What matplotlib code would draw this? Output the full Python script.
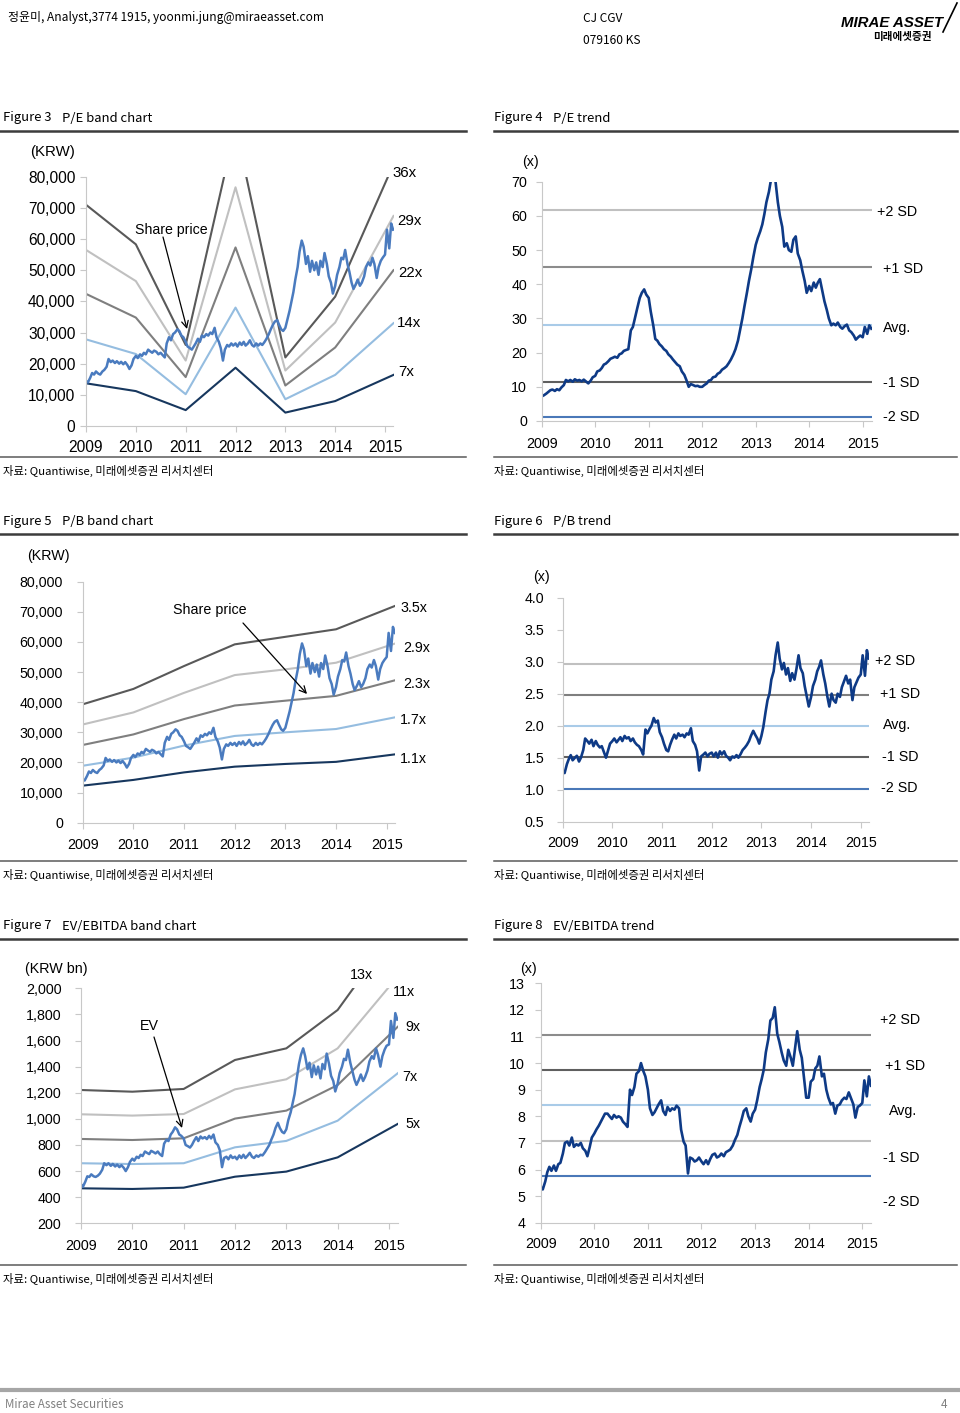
import numpy as np
import pandas as pd
import matplotlib
matplotlib.use('Agg')
import matplotlib.pyplot as plt
from matplotlib.lines import Line2D
from matplotlib.ticker import FuncFormatter

W, H = 960, 1413
KR = ['Noto Sans CJK KR', 'DejaVu Sans']
plt.rcParams['font.family'] = ['Liberation Sans', 'DejaVu Sans']

# semi-monthly observations, Jan 2009 - Mar 2015
dates = pd.date_range('2009-01-01', periods=149, freq='SMS')
t = np.array(dates.year + (dates.dayofyear - 1) / 365.0)
band_x = [2009, 2010, 2011, 2012, 2013, 2014, 2015.17]
years = list(range(2009, 2016))

price = [
    14500, 14000, 15500, 17000, 16500, 17500, 16800, 16500, 17500, 18000, 19000, 21500,
    20500, 21000, 20200, 20800, 20000, 20600, 19800, 20500, 19500, 18300, 19500, 21500,
    22500, 21800, 23000, 22500, 23500, 23000, 24500, 24000, 23500, 24200, 23800, 23000,
    23500, 22800, 22000, 26500, 28500, 27500, 29500, 30000, 31000, 30500, 29000, 28500,
    27000, 25500, 25000, 24500, 25500, 26500, 28000, 27000, 29000, 28500, 29500, 29000,
    30000, 29500, 31500, 28500, 27000, 25000, 21000, 24500, 26000, 25500, 26500, 25800,
    26500, 25500, 26800, 26000, 27000, 25800, 26500, 27500, 26000, 25500, 26500, 25800,
    26500, 26000, 27000, 28000, 29500, 31000, 32500, 33500, 34000, 32500, 31000, 30500,
    31500, 34000, 37000, 40000, 43000, 47000, 51000, 56000, 59500, 57500, 52000, 54500,
    49500, 53000, 50000, 52500, 48500, 53000, 51000, 55500, 52000, 48000, 46000, 42500,
    45000, 48500, 51000, 54000, 53500, 56500, 52000, 49500, 46000, 44000, 45500, 47000,
    45000, 46000, 48000, 51000, 52500, 51500, 54000, 52000, 47500, 51000, 53000, 54000,
    55000, 63000, 57000, 65000, 63000]

ev = [
    500, 480, 520, 560, 555, 575, 560, 555, 565, 580, 610, 660,
    645, 660, 640, 655, 635, 650, 630, 645, 625, 600, 630, 670,
    695, 680, 710, 700, 725, 715, 750, 740, 730, 755, 745, 735,
    750, 730, 715, 810, 840, 830, 880, 900, 935, 920, 880, 870,
    850, 800, 790, 780, 800, 830, 860, 830, 865, 850, 860, 845,
    870, 850, 880, 820, 800, 760, 630, 700, 710, 690, 720, 700,
    710, 690, 720, 700, 725, 700, 720, 740, 710, 700, 720, 710,
    725, 720, 745, 770, 800, 840, 880, 930, 970, 930, 900, 890,
    920, 990, 1050, 1120, 1190, 1300, 1420, 1490, 1540, 1480, 1380, 1430,
    1320, 1410, 1340, 1400, 1310, 1420, 1380, 1500, 1420, 1330, 1290, 1210,
    1270, 1350, 1400, 1460, 1450, 1530, 1430, 1370, 1300, 1260, 1300, 1340,
    1290, 1320, 1370, 1440, 1480, 1460, 1540, 1490, 1400, 1480, 1530, 1560,
    1570, 1750, 1620, 1810, 1760]

pe = [
    7.2, 7.5, 8.0, 8.5, 9.0, 9.2, 8.8, 9.3, 9.0, 9.8, 10.5, 12.0,
    11.6, 12.0, 11.5, 12.2, 11.8, 12.0, 11.6, 12.1, 11.5, 11.0, 11.8, 12.8,
    13.2, 14.5, 14.8, 15.5, 16.5, 16.8, 17.5, 18.2, 18.5, 18.8, 18.5, 19.5,
    19.8, 20.5, 20.8, 21.0, 26.5, 27.5, 30.5, 33.0, 36.0, 37.5, 38.5, 37.0,
    36.0, 32.0, 28.0, 24.0, 23.5, 22.5, 21.8, 21.0, 20.5, 19.5, 18.8, 18.0,
    17.2, 16.5, 16.0, 14.5, 13.5, 12.0, 10.0, 10.8, 10.5, 10.2, 10.3, 10.0,
    10.0, 10.5, 11.0, 11.8, 12.0, 12.8, 13.0, 13.8, 14.2, 15.0, 15.5, 16.0,
    17.0, 18.0, 19.5, 21.0, 23.5, 26.5, 30.0, 33.5, 37.5, 41.0, 44.5, 48.0,
    51.5, 53.5, 55.5, 57.5, 60.5, 64.0, 67.0, 70.5, 71.0, 70.5, 64.0, 60.0,
    56.8, 51.0, 52.0, 50.0, 49.5, 53.0, 54.0, 49.0, 47.0, 44.0, 41.0, 37.5,
    39.5, 38.0, 40.5, 39.0, 40.5, 41.5, 38.0, 35.0, 32.5, 30.0, 28.0, 28.5,
    28.0, 28.8, 27.5, 27.0, 27.8, 28.2, 26.5, 26.0, 25.0, 23.8, 24.5, 25.0,
    24.5, 27.5, 25.5, 28.0, 27.0]

pb = [
    1.30, 1.26, 1.40, 1.48, 1.54, 1.46, 1.50, 1.53, 1.44, 1.50, 1.62, 1.80,
    1.76, 1.72, 1.78, 1.68, 1.76, 1.70, 1.66, 1.68, 1.58, 1.50, 1.62, 1.72,
    1.76, 1.80, 1.74, 1.78, 1.82, 1.76, 1.84, 1.80, 1.82, 1.76, 1.80, 1.74,
    1.70, 1.68, 1.62, 1.55, 1.94, 1.88, 1.95, 2.00, 2.12, 2.05, 2.08, 1.90,
    1.82, 1.72, 1.62, 1.60, 1.70, 1.78, 1.86, 1.80, 1.88, 1.84, 1.86, 1.82,
    1.88, 1.86, 1.96, 1.76, 1.70, 1.60, 1.30, 1.52, 1.55, 1.58, 1.52, 1.56,
    1.58, 1.52, 1.58, 1.50, 1.60, 1.55, 1.60, 1.53, 1.50, 1.46, 1.52, 1.50,
    1.54, 1.50, 1.56, 1.62, 1.66, 1.70, 1.76, 1.84, 1.92, 1.86, 1.80, 1.72,
    1.84, 1.98, 2.22, 2.40, 2.50, 2.72, 2.85, 3.10, 3.30, 3.05, 2.88, 2.98,
    2.80, 2.90, 2.70, 2.82, 2.72, 2.88, 3.10, 2.90, 2.82, 2.62, 2.45, 2.30,
    2.45, 2.62, 2.72, 2.85, 2.92, 3.02, 2.80, 2.66, 2.45, 2.30, 2.50, 2.40,
    2.36, 2.50, 2.45, 2.60, 2.70, 2.78, 2.66, 2.72, 2.40, 2.60, 2.68, 2.75,
    2.80, 3.10, 2.78, 3.18, 3.05]

ev_ebitda = [
    5.35, 5.25, 5.55, 5.90, 6.10, 5.95, 6.15, 5.95, 6.20, 6.25, 6.60, 7.00,
    7.05, 6.90, 7.20, 6.85, 6.95, 6.90, 7.00, 6.80, 6.70, 6.50, 6.85, 7.20,
    7.35, 7.50, 7.65, 7.80, 7.95, 8.10, 8.10, 8.00, 7.90, 8.05, 7.95, 8.00,
    7.95, 7.80, 7.70, 7.60, 9.00, 8.80, 9.10, 9.60, 9.70, 10.00, 9.70, 9.50,
    9.00, 8.30, 8.05, 8.15, 8.30, 8.45, 8.60, 8.20, 8.05, 8.35, 8.20, 8.30,
    8.25, 8.40, 8.30, 7.50, 7.05, 6.90, 5.85, 6.45, 6.40, 6.30, 6.35, 6.45,
    6.30, 6.20, 6.35, 6.20, 6.40, 6.55, 6.60, 6.45, 6.50, 6.60, 6.50, 6.65,
    6.70, 6.75, 6.90, 7.10, 7.30, 7.60, 7.90, 8.20, 8.30, 8.00, 7.80, 8.10,
    8.25, 8.60, 9.10, 9.40, 9.75, 10.40, 10.90, 11.60, 11.70, 12.10, 11.10, 10.80,
    10.40, 10.10, 9.90, 10.50, 10.20, 9.90, 10.60, 11.20, 10.50, 10.20, 9.40, 8.70,
    8.70, 9.30, 9.40, 9.80, 9.90, 10.25, 9.50, 9.60, 9.00, 8.70, 8.45, 8.50,
    8.10, 8.40, 8.45, 8.60, 8.70, 8.65, 8.90, 8.70, 8.45, 7.95, 8.35, 8.40,
    8.50, 9.35, 8.75, 9.50, 9.15]

# band lines (value of each multiple at year ends)
pe_mult = ['7x', '14x', '22x', '29x', '36x']
pe_bands = [
    [13700, 11200, 5100, 18700, 4300, 8000, 16400],
    [27800, 23100, 10200, 38000, 8600, 16400, 33000],
    [42400, 34800, 15700, 57300, 13000, 25200, 50000],
    [56500, 46500, 21000, 76600, 17800, 33200, 67400],
    [71000, 58300, 26000, 96000, 22000, 41500, 84000]]
pb_mult = ['1.1x', '1.7x', '2.3x', '2.9x', '3.5x']
pb_bands = [
    [12300, 14200, 16700, 18600, 19500, 20200, 22700],
    [18900, 21600, 25600, 28800, 30000, 31100, 35000],
    [25800, 29300, 34400, 38900, 40500, 42100, 47300],
    [32600, 36600, 43100, 49000, 50900, 53100, 59500],
    [39300, 44400, 52000, 59200, 61700, 64200, 72000]]
ev_mult = ['5x', '7x', '9x', '11x', '13x']
ev_bands = [
    [468, 463, 473, 557, 596, 705, 961],
    [660, 654, 660, 782, 831, 986, 1349],
    [846, 838, 851, 1002, 1063, 1259, 1705],
    [1035, 1025, 1037, 1226, 1303, 1540, 2090],
    [1221, 1208, 1229, 1451, 1540, 1834, 2470]]

sd_names = ['+2 SD', '+1 SD', 'Avg.', '-1 SD', '-2 SD']
pe_sd = [61.8, 45.0, 28.2, 11.4, 1.1]
pb_sd = [2.97, 2.48, 2.00, 1.505, 1.015]
ev_ebitda_sd = [11.05, 9.74, 8.43, 7.09, 5.77]

band_colors = ['#17375e', '#95bde0', '#7f7f7f', '#c0c0c0', '#595959']
price_color = '#4a7bbf'
trend_color = '#0e3a86'

fig = plt.figure(figsize=(W / 100, H / 100), dpi=100)


def fx(x):
    return x / W


def fy(y):
    return 1 - y / H


def px_ax(x0, x1, y0, y1):
    return fig.add_axes([fx(x0), fy(y1), (x1 - x0) / W, (y1 - y0) / H])


def txt(x, y, s, **kw):
    kw.setdefault('va', 'center')
    kw.setdefault('fontsize', 10.3)
    fig.text(fx(x), fy(y), s, **kw)


def hline(x0, x1, y, color, lw):
    fig.add_artist(Line2D([fx(x0), fx(x1)], [fy(y), fy(y)], color=color, lw=lw))


def arrow(ax, x0, y0, x1, y1):
    ax.annotate('', xy=(fx(x1), fy(y1)), xycoords='figure fraction',
                xytext=(fx(x0), fy(y0)), textcoords='figure fraction',
                arrowprops=dict(arrowstyle='->', color='black', lw=0.9,
                                shrinkA=0, shrinkB=0, mutation_scale=12),
                annotation_clip=False)


def style(ax, ylim, yticks, fmt, ypad, xpad, size=10.3):
    ax.set_xlim(2009, 2015.17)
    ax.set_ylim(*ylim)
    ax.set_xticks(years)
    ax.set_yticks(yticks)
    ax.yaxis.set_major_formatter(FuncFormatter(fmt))
    ax.patch.set_alpha(0)
    for s in ['top', 'right']:
        ax.spines[s].set_visible(False)
    for s in ['left', 'bottom']:
        ax.spines[s].set_color('#c8c8c8')
    ax.tick_params(axis='y', length=4, color='#c8c8c8', pad=ypad * 0.72, labelsize=size)
    ax.tick_params(axis='x', length=4, color='#c8c8c8', pad=xpad * 0.72, labelsize=size)


krw = lambda v, p: '{:,.0f}'.format(v)

# ---------------- header / frame ----------------
txt(8, 18, '정윤미, Analyst,3774 1915, yoonmi.jung@miraeasset.com', family=KR, fontsize=8.6)
txt(583, 18, 'CJ CGV', family=KR, fontsize=8.6)
txt(583, 40, '079160 KS', family=KR, fontsize=8.6)
txt(841, 23, 'MIRAE ASSET', fontsize=10.8, fontweight='bold', style='italic')
txt(873, 37, '미래에셋증권', family=KR, fontsize=7.6, fontweight='bold', style='italic')
fig.add_artist(Line2D([fx(943), fx(957)], [fy(32), fy(3)], color='black', lw=1.2))

titles = [(118, 'Figure 3', 'P/E band chart', 'Figure 4', 'P/E trend'),
          (522, 'Figure 5', 'P/B band chart', 'Figure 6', 'P/B trend'),
          (926, 'Figure 7', 'EV/EBITDA band chart', 'Figure 8', 'EV/EBITDA trend')]
for y, a, b, c, d in titles:
    txt(3, y, a, family=KR, fontsize=9.4)
    txt(62, y, b, family=KR, fontsize=9.4)
    txt(494, y, c, family=KR, fontsize=9.4)
    txt(553, y, d, family=KR, fontsize=9.4)
    hline(0, 466, y + 12.5, '#3c3c3c', 1.8)
    hline(494, 957, y + 12.5, '#3c3c3c', 1.8)
    hline(0, 466, y + 339, '#5a5a5a', 1.1)
    hline(494, 957, y + 339, '#5a5a5a', 1.1)
    txt(3, y + 353, '자료: Quantiwise, 미래에셋증권 리서치센터', family=KR, fontsize=8.2)
    txt(494, y + 353, '자료: Quantiwise, 미래에셋증권 리서치센터', family=KR, fontsize=8.2)

hline(0, 960, 1390, '#a6a6a6', 3)
txt(5, 1404, 'Mirae Asset Securities', family=KR, fontsize=8.4, color='#808080')
txt(941, 1404, '4', family=KR, fontsize=8.4, color='#808080')

# ---------------- Figure 3: P/E band ----------------
ax1 = px_ax(86, 393.5, 176.7, 426)
for vals, c in zip(pe_bands, band_colors):
    ax1.plot(band_x, vals, color=c, lw=1.5)
ax1.plot(t, price, color=price_color, lw=1.8)
style(ax1, (0, 80000), range(0, 80001, 10000), krw, 5, 8, size=11.2)
for lab, (x, y) in zip(pe_mult, [(398, 372), (397, 323), (398, 273), (397, 221), (392, 173)]):
    txt(x, y, lab, fontsize=10.8)
txt(30, 152, '(KRW)', fontsize=10.8)
txt(135, 230, 'Share price', fontsize=10.2)
arrow(ax1, 163, 237, 187, 329)

# ---------------- Figure 4: P/E trend ----------------
ax2 = px_ax(541.7, 871.8, 181.7, 421)
for v, c in zip(pe_sd, ['#c0c0c0', '#8c8c8c', '#a9cbe8', '#5f5f5f', '#4a78b8']):
    ax2.axhline(v, color=c, lw=1.5)
ax2.plot(t, pe, color=trend_color, lw=1.9)
style(ax2, (0, 70), range(0, 71, 10), lambda v, p: '%d' % v, 9, 10)
for lab, (x, y) in zip(sd_names, [(877, 212), (883, 269), (883, 328), (883, 383), (883, 417)]):
    txt(x, y, lab)
txt(522, 162, '(x)')

# ---------------- Figure 5: P/B band ----------------
ax3 = px_ax(82.7, 395.3, 581.7, 822.7)
for vals, c in zip(pb_bands, band_colors):
    ax3.plot(band_x, vals, color=c, lw=1.5)
ax3.plot(t, price, color=price_color, lw=1.8)
style(ax3, (0, 80000), range(0, 80001, 10000), krw, 14, 10)
for lab, (x, y) in zip(pb_mult, [(400, 759), (400, 720), (403, 684), (403, 648), (400, 608)]):
    txt(x, y, lab)
txt(27, 556, '(KRW)')
txt(173, 610, 'Share price')
arrow(ax3, 243, 623, 307, 694)

# ---------------- Figure 6: P/B trend ----------------
ax4 = px_ax(562.7, 869.2, 597.7, 821.7)
for v, c in zip(pb_sd, ['#c0c0c0', '#7f7f7f', '#a9cbe8', '#5f5f5f', '#4a78b8']):
    ax4.axhline(v, color=c, lw=1.5)
ax4.plot(t, pb, color=trend_color, lw=1.9)
style(ax4, (0.5, 4.0), np.arange(0.5, 4.01, 0.5), lambda v, p: '%.1f' % v, 13, 9)
for lab, (x, y) in zip(sd_names, [(875, 661), (880, 694), (883, 725), (882, 757), (881, 788)]):
    txt(x, y, lab)
txt(533, 577, '(x)')

# ---------------- Figure 7: EV/EBITDA band ----------------
ax5 = px_ax(81, 397.7, 988.3, 1223.3)
for vals, c in zip(ev_bands, band_colors):
    ax5.plot(band_x, vals, color=c, lw=1.5)
ax5.plot(t, ev, color=price_color, lw=1.8)
style(ax5, (200, 2000), range(200, 2001, 200), krw, 14, 10)
for lab, (x, y) in zip(ev_mult, [(405, 1124), (402, 1077), (405, 1027), (393, 992), (350, 975)]):
    txt(x, y, lab)
txt(25, 969, '(KRW bn)')
txt(140, 1026, 'EV')
arrow(ax5, 154, 1037, 182, 1128)

# ---------------- Figure 8: EV/EBITDA trend ----------------
ax6 = px_ax(540.7, 871.4, 983.3, 1222.7)
for v, c in zip(ev_ebitda_sd, ['#8c8c8c', '#5f5f5f', '#a9cbe8', '#c0c0c0', '#4a78b8']):
    ax6.axhline(v, color=c, lw=1.5)
ax6.plot(t, ev_ebitda, color=trend_color, lw=1.9)
style(ax6, (4, 13), range(4, 14), lambda v, p: '%d' % v, 10, 9)
for lab, (x, y) in zip(sd_names, [(880, 1020), (885, 1066), (889, 1111), (883, 1158), (883, 1202)]):
    txt(x, y, lab)
txt(520, 969, '(x)')

fig.savefig('out.png', dpi=100)
